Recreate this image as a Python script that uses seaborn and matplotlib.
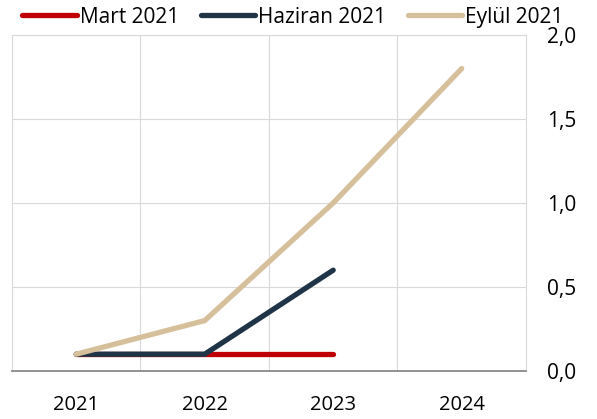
""" Script for plotting the forecast revision lines. """

import matplotlib
matplotlib.use("Agg")
import matplotlib.pyplot as plt
import pandas as pd
import seaborn as sns
from matplotlib.ticker import FuncFormatter

years = ["2021", "2022", "2023", "2024"]
series_names = ["Mart 2021", "Haziran 2021", "Eylül 2021"]
mart_2021 = [0.1, 0.1, 0.1]
haziran_2021 = [0.1, 0.1, 0.6]
eylul_2021 = [0.1, 0.3, 1.0, 1.8]
colors = ["#C00000", "#1F3447", "#D6C09B"]
y_ticks = [0.0, 0.5, 1.0, 1.5, 2.0]

rows = []
for name, values in zip(series_names, [mart_2021, haziran_2021, eylul_2021]):
    for year, value in zip(years, values):
        rows.append({"Yıl": year, "Değer": value, "Seri": name})
df = pd.DataFrame(rows)

sns.set_style("white")
plt.rcParams["font.family"] = ["Open Sans", "DejaVu Sans"]
plt.rcParams["text.color"] = "#000000"

fig = plt.figure(figsize=(5.97, 4.19), dpi=100)
ax = fig.add_axes([0.020, 0.1146, 0.861, 0.802])

sns.lineplot(
    data=df,
    x="Yıl",
    y="Değer",
    hue="Seri",
    hue_order=series_names,
    palette=colors,
    linewidth=3.8,
    ax=ax,
    sort=False,
)
for line in ax.lines:
    line.set_solid_capstyle("round")
    line.set_solid_joinstyle("miter")

ax.set_xlim(-0.5, 3.5)
ax.set_ylim(0, 2.0)
ax.set_yticks(y_ticks)
ax.yaxis.set_major_formatter(FuncFormatter(lambda v, _: f"{v:.1f}".replace(".", ",")))
ax.yaxis.tick_right()
ax.set_xticks(range(len(years)))
ax.set_xticklabels(years)
ax.tick_params(axis="both", length=0, colors="#000000")
ax.tick_params(axis="y", pad=15, labelsize=15)
ax.tick_params(axis="x", pad=17, labelsize=14.5)

# vertical grid between categories, horizontal grid at ticks
for xv in [0.5, 1.5, 2.5]:
    ax.axvline(xv, color="#D9D9D9", linewidth=0.8, zorder=0)
ax.yaxis.grid(True, color="#D9D9D9", linewidth=0.8)
ax.set_axisbelow(True)
for side in ["left", "right", "top"]:
    ax.spines[side].set_color("#D9D9D9")
    ax.spines[side].set_linewidth(0.8)
ax.spines["bottom"].set_color("#808080")
ax.spines["bottom"].set_linewidth(1.2)

ax.set_xlabel("")
ax.set_ylabel("")

leg = ax.legend(
    loc="lower center",
    bbox_to_anchor=(0.547, 1.022),
    ncol=3,
    frameon=False,
    fontsize=15,
    handlelength=2.6,
    handletextpad=0.15,
    columnspacing=1.05,
    borderaxespad=0,
    borderpad=0,
)
for text in leg.get_texts():
    text.set_color("#000000")

plt.savefig("out.png", dpi=100)
